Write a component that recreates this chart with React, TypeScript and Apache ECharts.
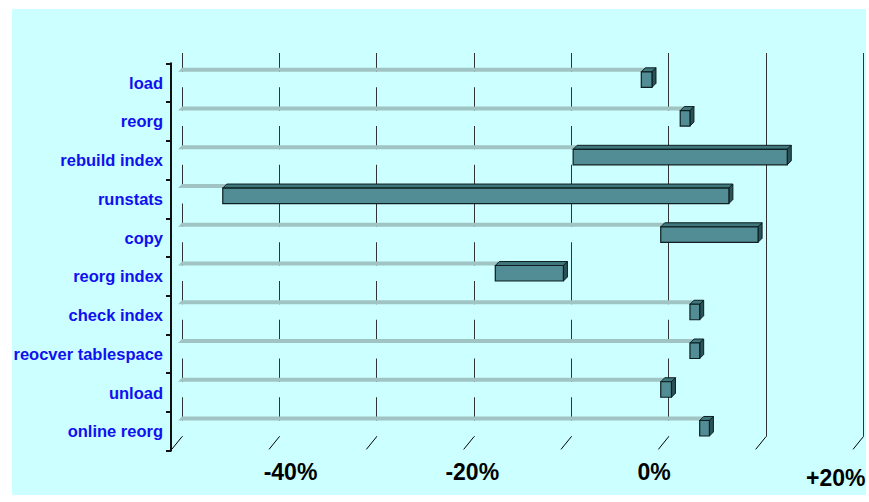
import React, { useEffect, useRef } from "react";
import * as echarts from "echarts";

const categories = [
  "load",
  "reorg",
  "rebuild index",
  "runstats",
  "copy",
  "reorg index",
  "check index",
  "reocver tablespace",
  "unload",
  "online reorg",
];
const lowValues = [-2.4, 1.6, -9.4, -45.4, -0.4, -17.4, 2.6, 2.6, -0.4, 3.6];
const highValues = [-1.3, 2.6, 12.6, 6.6, 9.6, -10.4, 3.6, 3.6, 0.7, 4.6];
const gridTickValues = [-50, -40, -30, -20, -10, 0, 10, 20];
const labelValues = [-40, -20, 0, 20];
const labelTexts = ["-40%", "-20%", "0%", "+20%"];

const X_MIN = -50;
const X_MAX = 20;
const DEPTH = 4;

export default function App() {
  const ref = useRef<HTMLDivElement>(null);

  useEffect(() => {
    if (!ref.current) return;
    const chart = echarts.init(ref.current, undefined, { renderer: "svg" });
    const barData = categories.map((_, i) => [i, lowValues[i], highValues[i]]);

    chart.setOption({
      animation: false,
      backgroundColor: "transparent",
      grid: [
        { left: 182, right: 5.7, top: 63.3, bottom: 51.3, outerBoundsMode: "none", containLabel: false },
        { left: 182, right: 5.7, top: 53, bottom: 65.3, outerBoundsMode: "none", containLabel: false },
      ],
      xAxis: [
        { type: "value", gridIndex: 0, min: X_MIN, max: X_MAX, show: false },
        {
          type: "value",
          gridIndex: 1,
          min: X_MIN,
          max: X_MAX,
          interval: 10,
          axisLine: { show: false },
          axisTick: { show: false },
          axisLabel: { show: false },
          splitLine: { show: true, lineStyle: { color: "#333", width: 1 } },
        },
        {
          type: "value",
          gridIndex: 0,
          position: "bottom",
          min: -51.94,
          max: 23.03,
          axisLine: { show: false },
          axisTick: { show: false },
          splitLine: { show: false },
          axisLabel: {
            show: true,
            customValues: labelValues,
            margin: 10,
            formatter: (v: number) => {
              const i = labelValues.indexOf(Math.round(v));
              const t = i >= 0 ? labelTexts[i] : "";
              return v > 10 ? "{lo|" + t + "}" : "{n|" + t + "}";
            },
            rich: {
              n: {
                fontFamily: "'Liberation Sans', Arial, sans-serif",
                fontWeight: "bold",
                fontSize: 23,
                color: "#000",
              },
              lo: {
                fontFamily: "'Liberation Sans', Arial, sans-serif",
                fontWeight: "bold",
                fontSize: 23,
                color: "#000",
                padding: [6, 0, 0, 0],
              },
            },
          },
        },
      ],
      yAxis: [
        {
          type: "category",
          gridIndex: 0,
          inverse: true,
          data: categories,
          position: "left",
          offset: 11,
          z: 10,
          axisLine: { show: true, onZero: false, lineStyle: { color: "#111111", width: 2 } },
          axisTick: { show: true, inside: false, length: 5, lineStyle: { color: "#111111", width: 2 } },
          splitLine: { show: false },
          axisLabel: {
            margin: 8,
            color: "#1010F0",
            fontWeight: "bold",
            fontSize: 16.5,
            fontFamily: "'Liberation Sans', Arial, sans-serif",
            padding: [0, 0, 6, 0],
          },
        },
        { type: "value", gridIndex: 1, min: 0, max: 1, show: false },
      ],
      series: [
        {
          type: "custom",
          xAxisIndex: 1,
          yAxisIndex: 1,
          data: gridTickValues.map((v) => [v, 0]),
          renderItem: (_p: any, api: any) => {
            const p = api.coord([api.value(0), 0]);
            return {
              type: "line",
              shape: { x1: p[0], y1: p[1], x2: p[0] - 10.3, y2: p[1] + 12.7 },
              style: { stroke: "#000", lineWidth: 1 },
            };
          },
        },
        {
          type: "custom",
          xAxisIndex: 0,
          yAxisIndex: 0,
          data: barData,
          encode: { x: [1, 2], y: 0 },
          renderItem: (_p: any, api: any) => {
            const cat = api.value(0);
            const lo = api.value(1);
            const hi = api.value(2);
            const pMin = api.coord([X_MIN, cat]);
            const pLo = api.coord([lo, cat]);
            const pHi = api.coord([hi, cat]);
            const bh = api.size([0, 1])[1];
            const cy = pLo[1];
            const ft = cy - 0.28 * bh;
            const fb = cy + 0.12 * bh;
            const d = DEPTH;
            const xm = pMin[0];
            const xl = pLo[0];
            const xh = pHi[0];
            const stroke = "#0d1f20";
            return {
              type: "group",
              children: [
                {
                  type: "rect",
                  shape: { x: xm - d, y: ft, width: xl - xm, height: fb - ft },
                  style: { fill: "#CCFFFF" },
                },
                {
                  type: "polygon",
                  shape: {
                    points: [
                      [xm - d, ft],
                      [xl - d, ft],
                      [xl, ft - d],
                      [xm, ft - d],
                    ],
                  },
                  style: { fill: "#A0C4C4" },
                },
                {
                  type: "polygon",
                  shape: {
                    points: [
                      [xl - d, ft],
                      [xh - d, ft],
                      [xh, ft - d],
                      [xl, ft - d],
                    ],
                  },
                  style: { fill: "#3F777D", stroke, lineWidth: 1 },
                },
                {
                  type: "polygon",
                  shape: {
                    points: [
                      [xh - d, ft],
                      [xh, ft - d],
                      [xh, fb - d],
                      [xh - d, fb],
                    ],
                  },
                  style: { fill: "#2B5257", stroke, lineWidth: 1 },
                },
                {
                  type: "rect",
                  shape: { x: xl - d, y: ft, width: xh - xl, height: fb - ft },
                  style: { fill: "#528C94", stroke, lineWidth: 1.2 },
                },
              ],
            };
          },
        },
      ],
    });

    return () => chart.dispose();
  }, []);

  return (
    <div
      style={{
        position: "absolute",
        left: 0,
        top: 0,
        width: 869,
        height: 502,
        background: "#ffffff",
        overflow: "hidden",
      }}
    >
      <div
        style={{
          position: "absolute",
          left: 12,
          top: 9,
          width: 854,
          height: 486,
          background: "#CCFFFF",
        }}
      />
      <div
        ref={ref}
        style={{ position: "absolute", left: 0, top: 0, width: 869, height: 502 }}
      />
    </div>
  );
}
